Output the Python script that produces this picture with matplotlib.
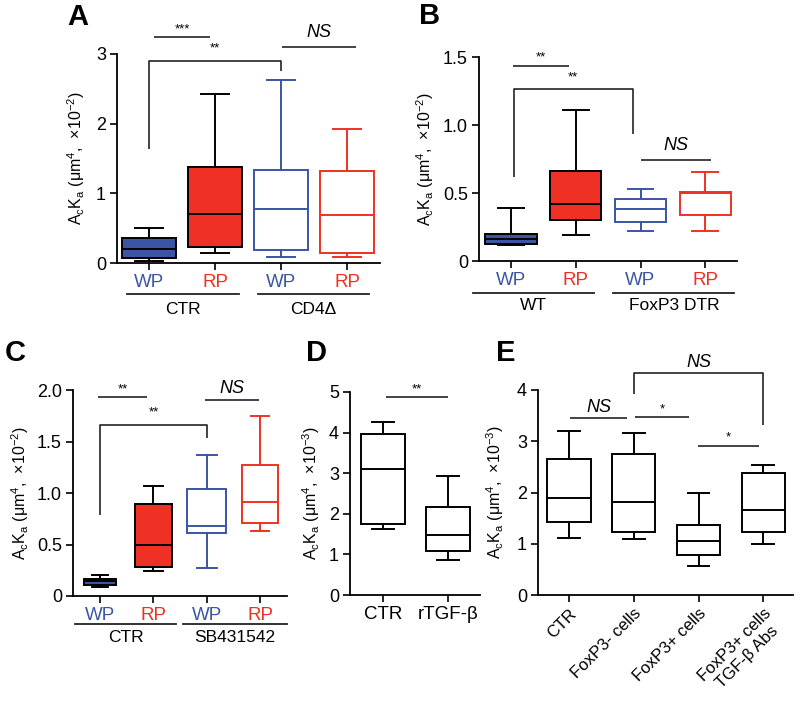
import matplotlib
matplotlib.use("Agg")
import matplotlib.pyplot as plt

plt.rcParams['font.family'] = ['Liberation Sans', 'DejaVu Sans']
plt.rcParams['mathtext.fontset'] = 'custom'
plt.rcParams['mathtext.rm'] = 'Liberation Sans'
plt.rcParams['mathtext.it'] = 'Liberation Sans:italic'

BLUE = '#3b55a5'
RED = '#ee3124'

# ---------------- data ----------------
# Panel A
A_labels = ['WP', 'RP', 'WP', 'RP']
A_lo = [0.034, 0.14, 0.086, 0.09]
A_q1 = [0.077, 0.235, 0.18, 0.14]
A_med = [0.20, 0.71, 0.77, 0.69]
A_q3 = [0.36, 1.385, 1.34, 1.32]
A_hi = [0.50, 2.43, 2.63, 1.93]
A_groups = ['CTR', 'CD4Δ']

# Panel B
B_labels = ['WP', 'RP', 'WP', 'RP']
B_lo = [0.117, 0.193, 0.218, 0.218]
B_q1 = [0.127, 0.30, 0.286, 0.338]
B_med = [0.164, 0.416, 0.384, 0.50]
B_q3 = [0.20, 0.66, 0.453, 0.506]
B_hi = [0.387, 1.11, 0.531, 0.653]
B_groups = ['WT', 'FoxP3 DTR']

# Panel C
C_labels = ['WP', 'RP', 'WP', 'RP']
C_lo = [0.088, 0.24, 0.272, 0.629]
C_q1 = [0.104, 0.285, 0.616, 0.71]
C_med = [0.143, 0.496, 0.68, 0.908]
C_q3 = [0.169, 0.89, 1.037, 1.267]
C_hi = [0.20, 1.07, 1.365, 1.747]
C_groups = ['CTR', 'SB431542']

# Panel D
D_labels = ['CTR', 'rTGF-β']
D_lo = [1.63, 0.87]
D_q1 = [1.76, 1.08]
D_med = [3.10, 1.47]
D_q3 = [3.97, 2.17]
D_hi = [4.25, 2.93]

# Panel E
E_labels = ['CTR', 'FoxP3- cells', 'FoxP3+ cells', 'FoxP3+ cells\nTGF-β Abs']
E_lo = [1.106, 1.086, 0.566, 1.0]
E_q1 = [1.43, 1.23, 0.78, 1.236]
E_med = [1.90, 1.82, 1.047, 1.66]
E_q3 = [2.65, 2.745, 1.366, 2.39]
E_hi = [3.20, 3.16, 2.0, 2.54]

W, H = 800, 702
fig = plt.figure(figsize=(W / 100, H / 100), dpi=100)


def make_ax(left, right, top, bottom):
    return fig.add_axes([left / W, 1 - bottom / H, (right - left) / W, (bottom - top) / H])


def style(ax, ylim, yticks, yticklabels, xlim, xlabels, xcolors=None, rot=None):
    ax.set_ylim(*ylim)
    ax.set_xlim(*xlim)
    ax.set_yticks(yticks)
    ax.set_yticklabels(yticklabels, fontsize=13)
    ax.set_xticks(range(len(xlabels)))
    if rot:
        ax.set_xticklabels(xlabels, fontsize=12, rotation=45, ha='right',
                           rotation_mode='anchor', multialignment='center')
    else:
        ax.set_xticklabels(xlabels, fontsize=13.5)
    if xcolors:
        for t, c in zip(ax.get_xticklabels(), xcolors):
            t.set_color(c)
    for s in ['top', 'right']:
        ax.spines[s].set_visible(False)
    for s in ['left', 'bottom']:
        ax.spines[s].set_linewidth(1.3)
    ax.tick_params(direction='out', length=5, width=1.2, pad=3)
    ax.set_facecolor('none')


def boxes(ax, lo, q1, med, q3, hi, edge, face, widths):
    stats = [dict(whislo=a, q1=b, med=c, q3=d, whishi=e) for a, b, c, d, e in zip(lo, q1, med, q3, hi)]
    bp = ax.bxp(stats, positions=range(len(stats)), widths=widths, showfliers=False,
                patch_artist=True, manage_ticks=False)
    for i in range(len(stats)):
        ec, fc = edge[i], face[i]
        bp['boxes'][i].set(facecolor=fc, edgecolor=ec, linewidth=1.4)
        bp['medians'][i].set(color='black' if fc != 'white' else ec, linewidth=1.4)
        for j in (2 * i, 2 * i + 1):
            bp['whiskers'][j].set(color=ec, linewidth=1.4)
            bp['caps'][j].set(color=ec, linewidth=1.4)
        bp['boxes'][i].set_zorder(2)
        bp['medians'][i].set_zorder(3)


def bar(ax, x1, x2, y, text, italic=False, d1=None, d2=None, tdy=0.0, fs=None):
    xs = [x1, x1, x2, x2] if d1 is not None else [x1, x2]
    ys = [d1, y, y, d2] if d1 is not None else [y, y]
    ax.plot(xs, ys, color='#222222', lw=1.2, clip_on=False, solid_capstyle='butt')
    if italic:
        ax.text((x1 + x2) / 2, y + tdy, text, ha='center', va='bottom', fontsize=fs or 13,
                style='italic', clip_on=False)
    else:
        ax.text((x1 + x2) / 2, y + tdy, text, ha='center', va='bottom', fontsize=fs or 9.5,
                clip_on=False)


def groups(ax, segs, names, line_px, text_px, ax_h):
    tr = ax.get_xaxis_transform()
    for (a, b), n in zip(segs, names):
        ax.plot([a, b], [-line_px / ax_h] * 2, color='#222222', lw=1.3, transform=tr, clip_on=False)
        ax.text((a + b) / 2, -text_px / ax_h, n, transform=tr, ha='center', va='center', fontsize=12.5)


ylab2 = r'$\mathregular{A_cK_a}$ ($\mathregular{\mu m^4}$,  ×10$\mathregular{^{-2}}$)'
ylab3 = r'$\mathregular{A_cK_a}$ ($\mathregular{\mu m^4}$,  ×10$\mathregular{^{-3}}$)'
wprp_cols = [BLUE, RED, BLUE, RED]
YL = 11.5

# ---------- Panel A ----------
axA = make_ax(117, 380, 54, 263)
boxes(axA, A_lo, A_q1, A_med, A_q3, A_hi, ['black', 'black', BLUE, RED],
      [BLUE, RED, 'white', 'white'], 0.82)
style(axA, (0, 3), [0, 1, 2, 3], ['0', '1', '2', '3'], (-0.485, 3.5), A_labels, wprp_cols)
axA.set_ylabel(ylab2, fontsize=YL, labelpad=6)
bar(axA, 0.08, 0.92, 3.24, '***', tdy=0.03)
bar(axA, 0, 2, 2.90, '**', d1=1.64, d2=2.76, tdy=0.1)
bar(axA, 2.01, 3.14, 3.10, 'NS', italic=True, tdy=0.08)
groups(axA, [(-0.33, 1.36), (1.65, 3.33)], A_groups, 31, 46, 209)
fig.text(67 / W, 1 - 17 / H, 'A', fontsize=21, fontweight='bold', va='center', ha='left')

# ---------- Panel B ----------
axB = make_ax(479, 737, 57, 261)
boxes(axB, B_lo, B_q1, B_med, B_q3, B_hi, ['black', 'black', BLUE, RED],
      [BLUE, RED, 'white', 'white'], 0.79)
style(axB, (0, 1.5), [0, 0.5, 1.0, 1.5], ['0', '0.5', '1.0', '1.5'], (-0.495, 3.49), B_labels, wprp_cols)
axB.set_ylabel(ylab2, fontsize=YL, labelpad=5)
bar(axB, 0.035, 0.9, 1.434, '**', tdy=0.015)
bar(axB, 0.04, 1.88, 1.265, '**', d1=0.62, d2=0.937, tdy=0.04)
bar(axB, 2.0, 3.09, 0.746, 'NS', italic=True, tdy=0.04)
groups(axB, [(-0.59, 1.28), (1.58, 3.45)], B_groups, 32, 45, 204)
fig.text(419 / W, 1 - 16 / H, 'B', fontsize=21, fontweight='bold', va='center', ha='left')

# ---------- Panel C ----------
axC = make_ax(73, 287, 390, 596)
boxes(axC, C_lo, C_q1, C_med, C_q3, C_hi, ['black', 'black', BLUE, RED],
      [BLUE, RED, 'white', 'white'], [0.6, 0.69, 0.73, 0.68])
style(axC, (0, 2.0), [0, 0.5, 1.0, 1.5, 2.0], ['0', '0.5', '1.0', '1.5', '2.0'], (-0.506, 3.5),
      C_labels, wprp_cols)
axC.set_ylabel(ylab2, fontsize=YL, labelpad=4)
bar(axC, -0.03, 0.875, 1.93, '**', tdy=0.02)
bar(axC, 1.97, 2.97, 1.90, 'NS', italic=True, tdy=0.03)
bar(axC, 0, 2, 1.66, '**', d1=0.785, d2=1.53, tdy=0.06)
groups(axC, [(-0.47, 1.43), (1.56, 3.5)], C_groups, 28, 41, 206)
fig.text(5 / W, 1 - 353 / H, 'C', fontsize=21, fontweight='bold', va='center', ha='left')

# ---------- Panel D ----------
axD = make_ax(350, 480, 392, 595)
boxes(axD, D_lo, D_q1, D_med, D_q3, D_hi, ['black', 'black'], ['white', 'white'], 0.67)
style(axD, (0, 5), [0, 1, 2, 3, 4, 5], ['0', '1', '2', '3', '4', '5'], (-0.51, 1.49), D_labels)
axD.set_ylabel(ylab3, fontsize=YL, labelpad=5)
bar(axD, 0.05, 1.0, 4.87, '**', tdy=0.05)
fig.text(306 / W, 1 - 353 / H, 'D', fontsize=21, fontweight='bold', va='center', ha='left')

# ---------- Panel E ----------
axE = make_ax(538, 793, 390, 595)
boxes(axE, E_lo, E_q1, E_med, E_q3, E_hi, ['black'] * 4, ['white'] * 4, 0.67)
style(axE, (0, 4), [0, 1, 2, 3, 4], ['0', '1', '2', '3', '4'], (-0.48, 3.46), E_labels, rot=45)
axE.set_ylabel(ylab3, fontsize=YL, labelpad=8)
bar(axE, 0.01, 0.90, 3.46, 'NS', italic=True, tdy=0.03)
bar(axE, 1.02, 1.86, 3.48, '*', tdy=0.03)
bar(axE, 1.99, 2.94, 2.91, '*', tdy=0.05)
bar(axE, 1, 3, 4.34, 'NS', italic=True, d1=3.92, d2=3.32, tdy=0.04)
fig.text(496 / W, 1 - 353 / H, 'E', fontsize=21, fontweight='bold', va='center', ha='left')

fig.savefig('out.png', dpi=100)
